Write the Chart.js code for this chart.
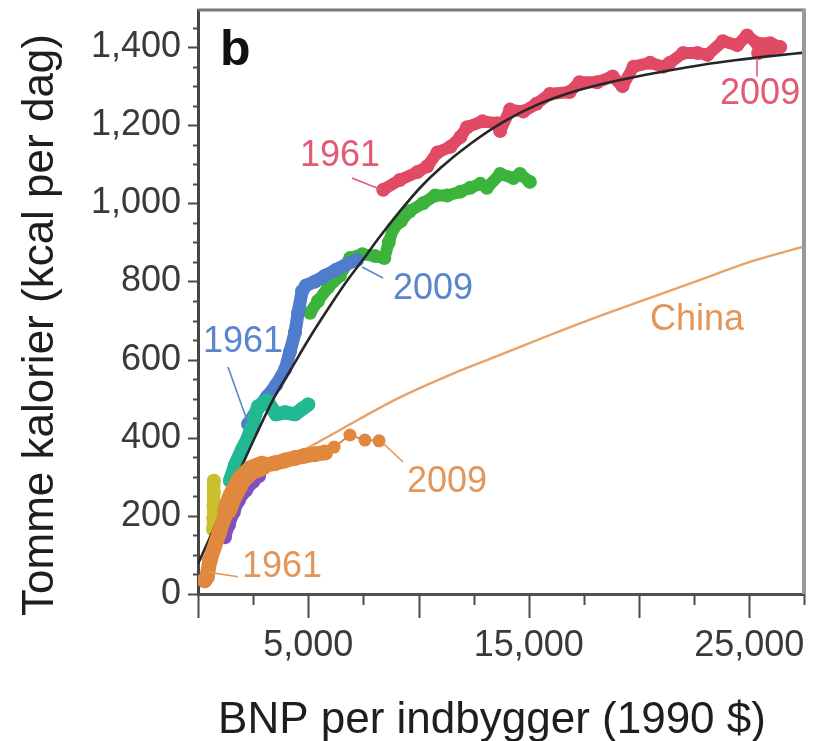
<!DOCTYPE html>
<html><head><meta charset="utf-8">
<script src="https://cdn.jsdelivr.net/npm/chart.js@4.4.1/dist/chart.umd.min.js"></script>
<style>html,body{margin:0;padding:0;background:#fff}#wrap{width:816px;height:741px;position:relative}canvas{display:block}</style>
</head><body><div id="wrap"><canvas id="c" width="816" height="741" style="width:816px;height:741px"></canvas></div>
<script>
const FONT = '"Liberation Sans", Arial, Helvetica, sans-serif';

// ---- data ----
const redX = [8400, 9150, 9950, 10400, 10850, 11450, 11900, 12200, 12900, 13550, 13700, 14150, 14750, 15350, 15950, 16850, 17300, 18100, 18800, 19250, 19750, 20500, 21100, 21400, 22000, 22650, 23100, 23800, 24450, 24900, 25350, 25950, 26400, 25900, 25400];
const redY = [1035, 1060, 1080, 1095, 1130, 1145, 1170, 1195, 1210, 1205, 1185, 1240, 1235, 1255, 1280, 1285, 1310, 1310, 1325, 1300, 1350, 1360, 1350, 1360, 1385, 1385, 1380, 1415, 1405, 1430, 1410, 1410, 1400, 1395, 1385];

const greenX = [5080, 5440, 5900, 6440, 6900, 7450, 8030, 8450, 8650, 8850, 9200, 9600, 10200, 10750, 11300, 11900, 12350, 12800, 13100, 13700, 14300, 14600, 15050];
const greenY = [720, 750, 785, 815, 860, 870, 865, 860, 900, 935, 955, 980, 1000, 1020, 1020, 1030, 1040, 1050, 1040, 1075, 1065, 1075, 1055];

const blueX = [2270, 2720, 3130, 3540, 3950, 4170, 4400, 4540, 4720, 4900, 5310, 5760, 6260, 6760, 7210];
const blueY = [435, 475, 505, 535, 575, 620, 670, 720, 775, 790, 800, 815, 830, 845, 855];

const tealX = [1450, 1680, 2000, 2270, 2500, 2720, 3130, 3540, 3950, 4400, 4750, 5000];
const tealY = [290, 330, 370, 400, 440, 480, 495, 460, 465, 460, 475, 485];

const orangeX = [300, 408, 544, 952, 1315, 1542, 1950, 2404, 2902, 3490, 3950, 4400, 4850, 5310, 5760, 6170, 6890, 7570, 8210];
const orangeY = [35, 44, 87, 156, 215, 248, 292, 317, 328, 335, 342, 348, 354, 358, 362, 376, 407, 394, 392];

const purpleX = [1220, 1410, 1630, 1860, 2180, 2500, 2770];
const purpleY = [145, 177, 210, 240, 265, 287, 302];

const yellowX = [720, 720, 700, 690, 680];
const yellowY = [290, 260, 225, 195, 165];

const fitX = [0, 550, 1220, 1900, 2590, 3400, 4170, 5080, 5990, 6890, 7440, 8250, 9160, 10070, 10980, 12340, 13830, 15370, 16870, 18370, 19910, 21410, 22900, 24440, 25940, 27500];
const fitY = [77, 146, 233, 317, 402, 497, 571, 658, 738, 812, 853, 915, 980, 1040, 1090, 1152, 1208, 1252, 1283, 1306, 1325, 1341, 1355, 1367, 1377, 1386];

const chinaX = [4850, 6440, 8930, 11430, 13700, 15960, 18230, 20500, 22770, 25030, 27500];
const chinaY = [370, 420, 497, 561, 612, 663, 712, 758, 804, 850, 890];

// annotation labels (data coordinates of text centre)
const annoText = ['1961', '2009', '1961', '2009', '2009', '1961', 'China'];
const annoX = [6440, 25490, 2040, 10660, 11290, 3810, 22630];
const annoY = [1121, 1280, 645, 781, 287, 69, 701];
const annoKind = ['red', 'red', 'blue', 'blue', 'orange', 'orange', 'orange'];

// leader lines (data coordinates)
const leadX0 = [6980, 25350, 1360, 7440, 8390, 450];
const leadY0 = [1065, 1325, 581, 837, 386, 56];
const leadX1 = [8345, 25350, 2268, 8390, 9300, 1810];
const leadY1 = [1034, 1372, 438, 809, 338, 44];
const leadKind = ['red', 'red', 'blue', 'blue', 'orange', 'orange'];

// tick labels and tick marks
const xTickLabels = [5000, 15000, 25000];
const yTickLabels = [0, 200, 400, 600, 800, 1000, 1200, 1400];
const xTickMarks = [0, 2500, 5000, 7500, 10000, 12500, 15000, 17500, 20000, 22500, 25000, 27500];
const yTickMarks = [0, 50, 100, 150, 200, 250, 300, 350, 400, 450, 500, 550, 600, 650, 700, 750, 800, 850, 900, 950, 1000, 1050, 1100, 1150, 1200, 1250, 1300, 1350, 1400, 1450];

const xTitle = 'BNP per indbygger (1990 $)';
const yTitle = 'Tomme kalorier (kcal per dag)';
const panelLabel = 'b';

// ---- styles ----
const COL = {
  red: '#e04a64', green: '#3cb43c', blue: '#4f7ccc', teal: '#22b894',
  orange: '#e0883e', purple: '#7e52bc', yellow: '#c9c02c', fit: '#262626', china: '#e8a268'
};
const LABCOL = { red: '#e25a74', blue: '#5a86cf', orange: '#e3965a' };

function pts(xs, ys) { return xs.map((x, i) => ({ x: x, y: ys[i] })); }

function band(data, color, extra) {
  return Object.assign({
    data: data, showLine: true, borderColor: color, backgroundColor: color,
    pointBackgroundColor: color, pointBorderWidth: 0, pointRadius: 7, pointHoverRadius: 7,
    borderWidth: 12, borderJoinStyle: 'round', borderCapStyle: 'round', tension: 0
  }, extra || {});
}

const datasets = [
  band(pts(orangeX, orangeY), COL.orange, {
    pointRadius: c => (c.dataIndex >= 15 ? 6.5 : 8),
    segment: { borderWidth: c => (c.p0DataIndex >= 14 ? 2 : (c.p0DataIndex >= 4 && c.p0DataIndex <= 7 ? 20 : 15)) }
  }),
  { data: pts(fitX, fitY), showLine: true, borderColor: COL.fit, borderWidth: 2.6, pointRadius: 0,
    cubicInterpolationMode: 'monotone', tension: 0.4 },
  band(pts(tealX, tealY), COL.teal, { borderWidth: 14 }),
  band(pts(blueX, blueY), COL.blue, { borderWidth: 13 }),
  band(pts(greenX, greenY), COL.green),
  band(pts(redX, redY), COL.red),
  band(pts(purpleX, purpleY), COL.purple),
  band(pts(yellowX, yellowY), COL.yellow, { borderWidth: 13 }),
  { data: pts(chinaX, chinaY), showLine: true, borderColor: COL.china, borderWidth: 2.4, pointRadius: 0,
    cubicInterpolationMode: 'monotone', tension: 0.4 }
];

const deco = {
  id: 'deco',
  afterDatasetsDraw(chart) {
    const ctx = chart.ctx, xs = chart.scales.x, ys = chart.scales.y;
    ctx.save();
    ctx.lineWidth = 1.6;
    for (let i = 0; i < leadX0.length; i++) {
      ctx.strokeStyle = LABCOL[leadKind[i]];
      ctx.beginPath();
      ctx.moveTo(xs.getPixelForValue(leadX0[i]), ys.getPixelForValue(leadY0[i]));
      ctx.lineTo(xs.getPixelForValue(leadX1[i]), ys.getPixelForValue(leadY1[i]));
      ctx.stroke();
    }
    ctx.font = '36px ' + FONT;
    ctx.textAlign = 'center';
    ctx.textBaseline = 'middle';
    for (let i = 0; i < annoText.length; i++) {
      ctx.fillStyle = LABCOL[annoKind[i]];
      ctx.fillText(annoText[i], xs.getPixelForValue(annoX[i]), ys.getPixelForValue(annoY[i]));
    }
    ctx.restore();
  },
  afterDraw(chart) {
    const ctx = chart.ctx, a = chart.chartArea, xs = chart.scales.x, ys = chart.scales.y;
    ctx.save();
    // frame top and right
    ctx.lineWidth = 3;
    ctx.strokeStyle = '#777';
    ctx.beginPath(); ctx.moveTo(a.left, a.top); ctx.lineTo(a.right, a.top); ctx.stroke();
    ctx.strokeStyle = '#999';
    ctx.lineWidth = 4;
    ctx.beginPath(); ctx.moveTo(a.right, a.top - 1.5); ctx.lineTo(a.right, a.bottom); ctx.stroke();
    // tick marks
    ctx.strokeStyle = '#4a4a4a';
    ctx.lineWidth = 2;
    xTickMarks.forEach(v => {
      const px = Math.round(xs.getPixelForValue(v)) + 0.5;
      const len = v % 5000 === 0 ? 24 : 11;
      ctx.beginPath(); ctx.moveTo(px, a.bottom); ctx.lineTo(px, a.bottom + len); ctx.stroke();
    });
    yTickMarks.forEach(v => {
      const py = Math.round(ys.getPixelForValue(v)) + 0.5;
      const len = v % 200 === 0 ? 10 : 5;
      ctx.beginPath(); ctx.moveTo(a.left, py); ctx.lineTo(a.left - len, py); ctx.stroke();
    });
    // axis titles
    ctx.fillStyle = '#1e1e1e';
    ctx.font = '44px ' + FONT;
    ctx.textAlign = 'center';
    ctx.textBaseline = 'alphabetic';
    ctx.fillText(xTitle, 492, 733);
    ctx.save();
    ctx.translate(53, 325);
    ctx.rotate(-Math.PI / 2);
    ctx.fillText(yTitle, 0, 0);
    ctx.restore();
    // panel label
    ctx.fillStyle = '#111';
    ctx.font = 'bold 50px ' + FONT;
    ctx.textAlign = 'left';
    ctx.fillText(panelLabel, a.left + 22, a.top + 55);
    ctx.restore();
  }
};

new Chart(document.getElementById('c'), {
  type: 'scatter',
  data: { datasets: datasets },
  options: {
    responsive: false, animation: false, devicePixelRatio: 1,
    layout: { padding: { top: 10, right: 12, left: 0, bottom: 0 } },
    plugins: { legend: { display: false }, tooltip: { enabled: false } },
    scales: {
      x: {
        type: 'linear', min: 0, max: 27480,
        afterBuildTicks: s => { s.ticks = xTickLabels.map(v => ({ value: v })); },
        afterFit: s => { s.height = 147; s.paddingLeft = 0; s.paddingRight = 0; s.paddingTop = 0; s.paddingBottom = 0; },
        grid: { drawOnChartArea: false, drawTicks: false },
        border: { display: true, color: '#505050', width: 3 },
        ticks: {
          padding: 34, color: '#3a3a3a', maxRotation: 0, autoSkip: false,
          font: { family: FONT, size: 36, lineHeight: 1 },
          callback: v => Number(v).toLocaleString('en-US')
        }
      },
      y: {
        type: 'linear', min: 0, max: 1495,
        afterBuildTicks: s => { s.ticks = yTickLabels.map(v => ({ value: v })); },
        afterFit: s => { s.width = 198; s.paddingLeft = 0; s.paddingRight = 0; s.paddingTop = 0; s.paddingBottom = 0; },
        grid: { drawOnChartArea: false, drawTicks: false },
        border: { display: true, color: '#454545', width: 3 },
        ticks: {
          padding: 17, color: '#3a3a3a', autoSkip: false,
          font: { family: FONT, size: 36, lineHeight: 1 },
          callback: v => Number(v).toLocaleString('en-US')
        }
      }
    }
  },
  plugins: [deco]
});
</script>
</body></html>
